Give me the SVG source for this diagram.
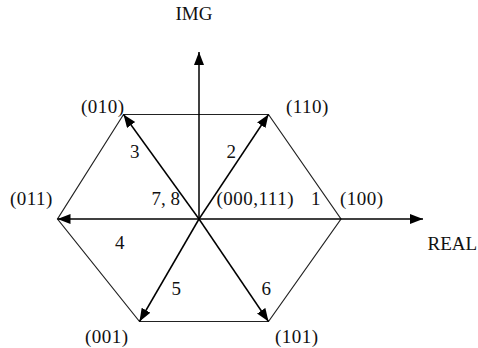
<svg xmlns="http://www.w3.org/2000/svg" width="478" height="348" viewBox="0 0 478 348">
<style>
text{font-family:"Liberation Serif","Times New Roman",serif;font-size:19px;fill:#111}
.num{letter-spacing:0.5px}
.edge{stroke:#222;stroke-width:1.2;fill:none}
.vec{stroke:#000;stroke-width:1.5;fill:none}
</style>
<defs>
<marker id="ah" markerUnits="userSpaceOnUse" markerWidth="14" markerHeight="12" refX="13" refY="5" orient="auto">
<path d="M0,0 L13,5 L0,10 Z" fill="#000"/>
</marker>
</defs>
<rect width="478" height="348" fill="#fff"/>
<g id="hexagon">
<polygon class="edge" points="123.5,114.5 268.5,114.5 341,219 268.5,321.5 139.5,321.5 57.5,219"/>
</g>
<g id="connectors">
<line id="axis-real" class="vec" x1="199" y1="219" x2="423" y2="219" marker-end="url(#ah)"/>
<line id="axis-img" class="vec" x1="199" y1="219" x2="199" y2="52" marker-end="url(#ah)"/>
<line class="vec" x1="199" y1="219" x2="268.5" y2="114.5" marker-end="url(#ah)"/>
<line class="vec" x1="199" y1="219" x2="123.5" y2="114.5" marker-end="url(#ah)"/>
<line class="vec" x1="199" y1="219" x2="57.5" y2="219" marker-end="url(#ah)"/>
<line class="vec" x1="199" y1="219" x2="139.5" y2="321.5" marker-end="url(#ah)"/>
<line class="vec" x1="199" y1="219" x2="268.5" y2="321.5" marker-end="url(#ah)"/>
</g>
<g id="labels">
<text x="175.5" y="20">IMG</text>
<text x="427.5" y="250">REAL</text>
<text class="num" x="81" y="113">(010)</text>
<text class="num" x="286" y="113">(110)</text>
<text class="num" x="10" y="205">(011)</text>
<text class="num" x="340" y="205">(100)</text>
<text class="num" x="216.5" y="205">(000,111)</text>
<text x="151.5" y="205">7, 8</text>
<text x="311" y="205">1</text>
<text x="130" y="158">3</text>
<text x="226.5" y="158">2</text>
<text x="115" y="249">4</text>
<text x="171.5" y="295">5</text>
<text x="261.5" y="295">6</text>
<text class="num" x="85" y="343">(001)</text>
<text class="num" x="275" y="343">(101)</text>
</g>
</svg>
